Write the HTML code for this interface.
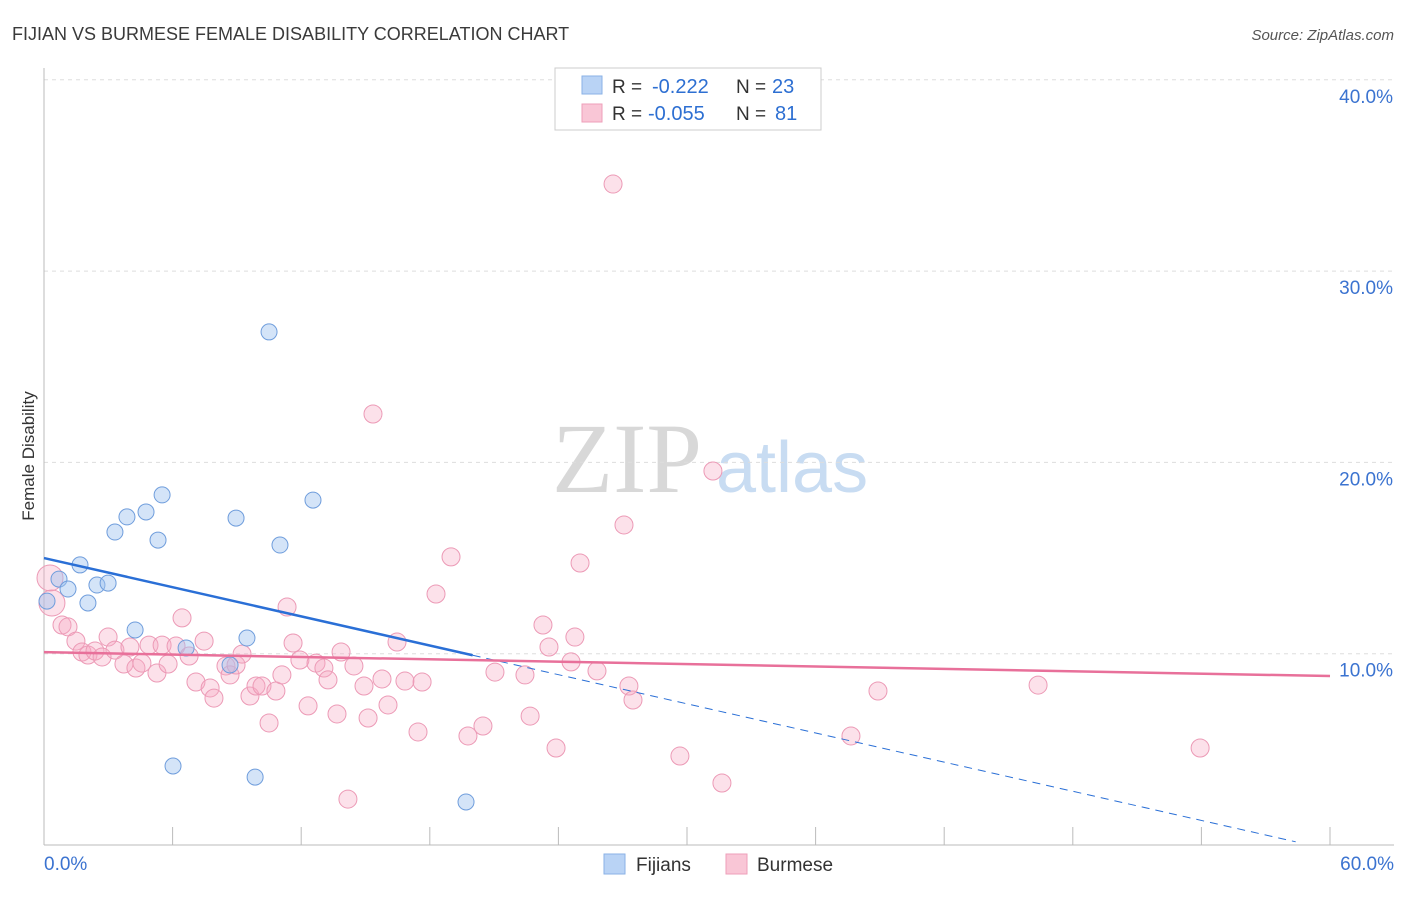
<!DOCTYPE html>
<html><head><meta charset="utf-8"><style>
body{margin:0;background:#fff;font-family:"Liberation Sans",sans-serif;}
svg text{font-family:"Liberation Sans",sans-serif;}
</style></head><body>
<svg id="chart" width="1406" height="892" xmlns="http://www.w3.org/2000/svg">
<text x="12" y="40" font-size="18" fill="#3a3a3a">FIJIAN VS BURMESE FEMALE DISABILITY CORRELATION CHART</text>
<text x="1394" y="40" font-size="15" fill="#555" font-style="italic" text-anchor="end">Source: ZipAtlas.com</text>
<g>
<text x="552" y="492" style="font-family:'Liberation Serif',serif;font-size:100px" fill="#d8d8d8">ZIP</text>
<text x="716" y="492" font-size="72" fill="#c8dcf2">atlas</text>
</g>
<text transform="translate(34,456) rotate(-90)" font-size="17" fill="#333" text-anchor="middle">Female Disability</text>
<g id="grid"></g><g id="axes"></g><g id="marks"></g>
<g>
<rect x="555" y="68" width="266" height="62" fill="#fff" stroke="#ccc"/>
<rect x="582" y="76" width="20" height="18" fill="#b9d3f5" stroke="#8ab2e6"/>
<text x="612" y="93" font-size="19" fill="#333">R =</text>
<text x="652" y="93" font-size="20" fill="#2d6fd2">-0.222</text>
<text x="736" y="93" font-size="19" fill="#333">N =</text>
<text x="772" y="93" font-size="20" fill="#2d6fd2">23</text>
<rect x="582" y="104" width="20" height="18" fill="#f9c6d6" stroke="#ee9fb9"/>
<text x="612" y="120" font-size="19" fill="#333">R =</text>
<text x="648" y="120" font-size="20" fill="#2d6fd2">-0.055</text>
<text x="736" y="120" font-size="19" fill="#333">N =</text>
<text x="775" y="120" font-size="20" fill="#2d6fd2">81</text>
</g>
<g>
<rect x="604" y="854" width="21" height="20" fill="#b9d3f5" stroke="#8ab2e6"/>
<text x="636" y="871" font-size="19" fill="#333">Fijians</text>
<rect x="726" y="854" width="21" height="20" fill="#f9c6d6" stroke="#ee9fb9"/>
<text x="757" y="871" font-size="19" fill="#333">Burmese</text>
</g>
</svg>
<script>
const xTicks=[0,6,12,18,24,30,36,42,48,54,60];
const yTicks=[10,20,30,40];
const fijX=[0.14,0.70,1.12,1.68,2.05,2.47,2.99,3.31,3.87,4.25,4.76,5.32,5.51,6.02,6.63,8.68,8.96,9.47,9.85,10.50,11.01,12.55,19.69];
const fijY=[12.75,13.9,13.38,14.64,12.65,13.59,13.69,16.36,17.15,11.24,17.41,15.94,18.3,4.13,10.3,9.41,17.09,10.82,3.55,26.82,15.68,18.03,2.25];
const burX=[0.28,0.37,0.84,1.12,1.49,1.77,2.05,2.38,2.71,2.99,3.31,3.73,4.01,4.29,4.57,4.90,5.27,5.51,5.79,6.16,6.44,6.77,7.09,7.47,7.75,7.93,8.49,8.68,8.96,9.24,9.61,9.89,10.17,10.50,10.82,11.10,11.34,11.62,11.94,12.32,12.69,13.06,13.25,13.67,13.86,14.18,14.46,14.93,15.12,15.35,15.77,16.05,16.47,16.84,17.45,17.64,18.29,18.99,19.78,20.48,21.04,22.44,22.68,23.28,23.56,23.89,24.59,24.77,25.01,25.80,26.55,27.06,27.29,27.48,29.67,31.21,31.63,37.65,38.91,46.38,53.94];
const burY=[13.96,12.65,11.5,11.4,10.66,10.09,9.93,10.14,9.83,10.87,10.19,9.46,10.35,9.25,9.51,10.45,8.99,10.45,9.46,10.4,11.87,9.88,8.52,10.66,8.21,7.68,9.36,8.89,9.41,9.98,7.79,8.31,8.31,6.38,8.05,8.89,12.44,10.56,9.67,7.27,9.51,9.25,8.63,6.85,10.09,2.40,9.36,8.31,6.64,22.53,8.68,7.32,10.61,8.57,5.91,8.52,13.12,15.06,5.70,6.22,9.04,8.89,6.74,11.5,10.35,5.07,9.57,10.87,14.74,9.10,34.55,16.73,8.31,7.58,4.65,19.55,3.24,5.70,8.05,8.36,5.07];
const fijLine=[15.0,-0.254];
const burLine=[10.08,-0.0208];
const X=v=>44+v/60*1286, Y=v=>845-v*19.13;
const NS="http://www.w3.org/2000/svg";
function mk(p,t,a){const e=document.createElementNS(NS,t);for(const k in a)e.setAttribute(k,a[k]);document.getElementById(p).appendChild(e);return e;}
yTicks.forEach(t=>{
 const g=mk('grid','line',{x1:44,x2:1394,y1:Y(t),y2:Y(t),stroke:'#ddd','stroke-dasharray':'4,4'});
 
 
 const l=mk('axes','text',{x:1393,y:Y(t)+23,'font-size':19,fill:'#3b73d0','text-anchor':'end'});l.textContent=t.toFixed(1)+'%';
 
 
});
const ax=mk('axes','line',{x1:44,x2:1394,y1:845,y2:845,stroke:'#bbb'});


const ay=mk('axes','line',{x1:44,x2:44,y1:68,y2:845,stroke:'#bbb'});


xTicks.forEach(t=>{const e=mk('axes','line',{x1:X(t),x2:X(t),y1:827,y2:845,stroke:'#bbb'});
 
 });
[[0,'start',44],[60,'end',1394]].forEach(([t,a,x])=>{const e=mk('axes','text',{x:x,y:870,'font-size':19,fill:'#3b73d0','text-anchor':a});e.textContent=t.toFixed(1)+'%';
 
 });
burX.forEach((v,i)=>{const r=i<2?13:9;const c=mk('marks','circle',{cx:X(v),cy:Y(burY[i]),r:r,fill:'rgba(246,170,196,0.35)',stroke:'#ec9ab6','stroke-width':1});
 
 });
fijX.forEach((v,i)=>{const c=mk('marks','circle',{cx:X(v),cy:Y(fijY[i]),r:8,fill:'rgba(160,195,240,0.45)',stroke:'#6f9ddc','stroke-width':1});
 
 });
const fl=mk('marks','line',{x1:X(0),y1:Y(fijLine[0]),x2:X(20),y2:Y(fijLine[0]+fijLine[1]*20),stroke:'#2a6fd6','stroke-width':2.5});


const fd=mk('marks','line',{x1:X(20),y1:Y(fijLine[0]+fijLine[1]*20),x2:X(58.4),y2:Y(fijLine[0]+fijLine[1]*58.4),stroke:'#2a6fd6','stroke-width':1,'stroke-dasharray':'8,6'});


const bl=mk('marks','line',{x1:X(0),y1:Y(burLine[0]),x2:X(60),y2:Y(burLine[0]+burLine[1]*60),stroke:'#e8709a','stroke-width':2.5});


</script>
</body></html>
